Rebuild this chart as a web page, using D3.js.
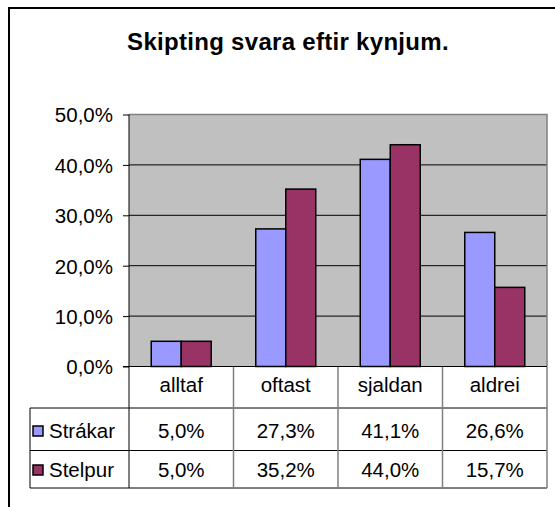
<!DOCTYPE html>
<html><head><meta charset="utf-8">
<script src="https://cdn.jsdelivr.net/npm/d3@7"></script>
<style>body{margin:0;background:#fff}svg{display:block}text{font-family:"Liberation Sans",Arial,sans-serif}</style>
</head><body><svg id="c" width="555" height="507"></svg>
<script>
const categories = ["alltaf","oftast","sjaldan","aldrei"];
const seriesNames = ["Strákar","Stelpur"];
const strakar = [5.0,27.3,41.1,26.6];
const stelpur = [5.0,35.2,44.0,15.7];
const yTicks = [0,10,20,30,40,50];
const colors = ["#9999FF","#993366"];
const title = "Skipting svara eftir kynjum.";

const svg = d3.select("#c");
const FS = 20.5;
const fmt = v => v.toFixed(1).replace(".", ",") + "%";
const L = 129, R = 547, T = 114.5, B = 366.5;
const x = d3.scaleBand().domain(categories).range([L, R]);
const xs = d3.scaleBand().domain(seriesNames).range([0, 60]);
const y = d3.scaleLinear().domain([0, 50]).range([B, T]);
const series = [strakar, stelpur];

// outer border
svg.append("rect").attr("x",9).attr("y",8).attr("width",600).attr("height",600)
  .attr("fill","none").attr("stroke","#000").attr("stroke-width",2);

svg.append("text").attr("x",288).attr("y",50).attr("text-anchor","middle")
  .attr("font-weight","bold").attr("font-size",24).attr("letter-spacing",0.3).text(title);

// plot area
svg.append("rect").attr("x",L).attr("y",T).attr("width",R-L).attr("height",B-T).attr("fill","#C0C0C0");
svg.append("g").selectAll("line").data(yTicks.slice(1,-1)).join("line")
  .attr("x1",L).attr("x2",R).attr("y1",d=>y(d)).attr("y2",d=>y(d)).attr("stroke","#000").attr("stroke-width",1);
svg.append("path").attr("d",`M${L},${T}H${R}V${B}`).attr("fill","none").attr("stroke","#808080").attr("stroke-width",1.5);

// bars
categories.forEach((c,i)=>{
  seriesNames.forEach((s,j)=>{
    svg.append("rect").attr("x",x(c)+x.bandwidth()/2-30+xs(s)).attr("y",y(series[j][i]))
      .attr("width",xs.bandwidth()).attr("height",B-y(series[j][i]))
      .attr("fill",colors[j]).attr("stroke","#000").attr("stroke-width",1.5);
  });
});

// y axis
const ya = d3.axisLeft(y).tickValues(yTicks).tickSize(6).tickFormat(fmt);
const gy = svg.append("g").attr("transform",`translate(${L},0)`).call(ya);
gy.select(".domain").remove();
gy.selectAll("line").attr("stroke","#000");
gy.selectAll("text").attr("font-size",FS).attr("font-family","Liberation Sans, Arial, sans-serif").attr("fill","#000").attr("x",-16).attr("dy","0.36em");
svg.append("line").attr("x1",L).attr("x2",L).attr("y1",T).attr("y2",408).attr("stroke","#000");
svg.append("line").attr("x1",L-6).attr("x2",R).attr("y1",B).attr("y2",B).attr("stroke","#000");

// table
const rowY = [367, 408, 450.5, 488];
const tl = 30;
svg.append("line").attr("x1",tl).attr("x2",R).attr("y1",rowY[1]).attr("y2",rowY[1]).attr("stroke","#000");
svg.append("line").attr("x1",tl).attr("x2",R).attr("y1",rowY[2]).attr("y2",rowY[2]).attr("stroke","#000");
svg.append("line").attr("x1",tl).attr("x2",R).attr("y1",rowY[3]).attr("y2",rowY[3]).attr("stroke","#000");
svg.append("line").attr("x1",tl).attr("x2",tl).attr("y1",rowY[1]).attr("y2",rowY[3]).attr("stroke","#000");
svg.append("line").attr("x1",L).attr("x2",L).attr("y1",rowY[1]).attr("y2",rowY[3]).attr("stroke","#000");
categories.forEach((c,i)=>{
  svg.append("line").attr("x1",x(c)+x.bandwidth()).attr("x2",x(c)+x.bandwidth()).attr("y1",rowY[0]).attr("y2",rowY[3])
    .attr("stroke","#808080").attr("stroke-width",1.5);
});
svg.append("g").selectAll("text").data(categories).join("text")
  .attr("x",d=>x(d)+x.bandwidth()/2).attr("y",392).attr("text-anchor","middle").attr("font-size",FS).text(d=>d);
const base = [438, 477];
series.forEach((arr,j)=>{
  svg.append("rect").attr("x",33).attr("y",base[j]-12).attr("width",10).attr("height",10)
    .attr("fill",colors[j]).attr("stroke","#000").attr("stroke-width",1.5);
  svg.append("text").attr("x",49).attr("y",base[j]).attr("font-size",FS).text(seriesNames[j]);
  svg.append("g").selectAll("text").data(arr).join("text")
    .attr("x",(d,i)=>x(categories[i])+x.bandwidth()/2).attr("y",base[j]).attr("text-anchor","middle")
    .attr("font-size",FS).text(d=>fmt(d));
});
</script></body></html>
